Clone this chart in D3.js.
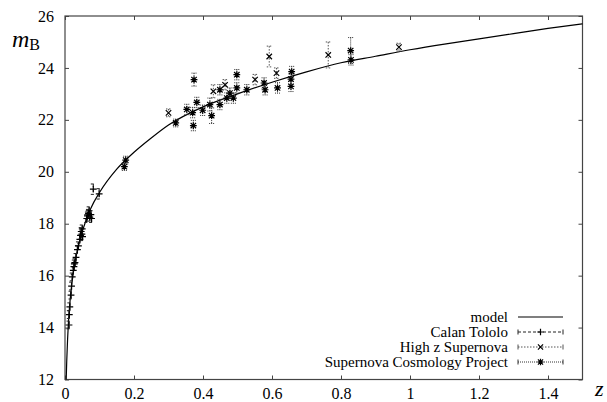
<!DOCTYPE html>
<html><head><meta charset="utf-8">
<script src="https://cdn.jsdelivr.net/npm/d3@7"></script>
<style>body{margin:0;background:#fff}svg{display:block}</style>
</head><body><svg id="c" width="607" height="402"></svg>
<script>
// model curve (z, m)
const modelZ = [0.0035,0.005,0.0075,0.01,0.015,0.02,0.03,0.04,0.05,0.075,0.1,0.15,0.2,0.25,0.3,0.4,0.5,0.6,0.7,0.8,0.9,1.0,1.1,1.2,1.3,1.4,1.5];
const modelM = [12.0,12.7,13.55,14.2,15.08,15.7,16.6,17.2,17.7,18.6,19.2,20.1,20.75,21.3,21.8,22.5,23.0,23.45,23.85,24.2,24.45,24.7,24.92,25.12,25.32,25.52,25.7];
// Calan Tololo: [z, m, err]
const calanTololo = [[0.0116,14.1,0.15],[0.0125,14.5,0.15],[0.014,14.8,0.15],[0.0175,15.25,0.15],[0.019,15.6,0.15],[0.021,15.95,0.15],[0.024,16.2,0.15],[0.026,16.35,0.15],[0.027,16.45,0.15],[0.029,16.5,0.15],[0.032,16.7,0.15],[0.036,17.0,0.15],[0.039,17.15,0.15],[0.043,17.4,0.15],[0.045,17.55,0.15],[0.047,17.7,0.15],[0.049,17.6,0.15],[0.050,17.8,0.15],[0.051,17.5,0.15],[0.063,18.2,0.15],[0.065,18.3,0.15],[0.068,18.4,0.15],[0.070,18.5,0.15],[0.072,18.25,0.15],[0.075,18.35,0.15],[0.077,18.2,0.15],[0.082,19.33,0.2],[0.099,19.15,0.2]];
// High z Supernova: [z, m, err]
const highZ = [[0.30,22.27,0.15],[0.43,23.1,0.25],[0.464,23.35,0.2],[0.551,23.55,0.2],[0.592,24.44,0.4],[0.613,23.8,0.2],[0.763,24.5,0.5],[0.968,24.8,0.15]];
// Supernova Cosmology Project: [z, m, err]
const scp = [[0.172,20.2,0.15],[0.176,20.45,0.15],[0.321,21.88,0.15],[0.353,22.4,0.2],[0.372,21.78,0.2],[0.37,22.28,0.2],[0.374,23.55,0.25],[0.382,22.67,0.2],[0.399,22.37,0.2],[0.42,22.59,0.25],[0.425,22.16,0.3],[0.449,23.16,0.2],[0.449,22.59,0.2],[0.469,22.84,0.2],[0.478,23.03,0.2],[0.488,22.84,0.2],[0.498,23.74,0.2],[0.498,23.23,0.2],[0.527,23.16,0.2],[0.577,23.42,0.2],[0.58,23.16,0.2],[0.616,23.23,0.2],[0.657,23.86,0.2],[0.655,23.57,0.2],[0.655,23.29,0.2],[0.828,24.67,0.5],[0.829,24.31,0.2]];
const xTicks = [0,0.2,0.4,0.6,0.8,1,1.2,1.4];
const yTicks = [12,14,16,18,20,22,24,26];
const legendLabels = ["model","Calan Tololo","High z Supernova","Supernova Cosmology Project"];

const FONT = '"Liberation Serif"';
const svg = d3.select("#c");
const L=65,R=582.5,T=16,B=379.5;
const x = d3.scaleLinear().domain([0,1.5]).range([L,R]);
const y = d3.scaleLinear().domain([12,26]).range([B,T]);
const axisCol="#444";

svg.append("rect").attr("x",L).attr("y",T).attr("width",R-L).attr("height",B-T)
  .attr("fill","none").attr("stroke",axisCol).attr("stroke-width",1.2);

function styleAxis(g){ g.attr("font-family",null).attr("font-size",null);
  g.select(".domain").remove(); g.selectAll("line").attr("stroke",axisCol).attr("stroke-width",1);
  g.selectAll("text").style("font-family",FONT).style("font-size","16px").attr("fill","#000"); }
const fmt = d=>String(d);
svg.append("g").attr("transform",`translate(0,${B})`).call(d3.axisBottom(x).tickValues(xTicks).tickFormat(fmt).tickSizeInner(-4).tickSizeOuter(0).tickPadding(8)).call(styleAxis);
svg.append("g").attr("transform",`translate(0,${T})`).call(d3.axisTop(x).tickValues(xTicks).tickFormat("").tickSizeInner(-4).tickSizeOuter(0)).call(styleAxis);
svg.append("g").attr("transform",`translate(${L},0)`).call(d3.axisLeft(y).tickValues(yTicks).tickFormat(fmt).tickSizeInner(-4).tickSizeOuter(0).tickPadding(11)).call(styleAxis);
svg.append("g").attr("transform",`translate(${R},0)`).call(d3.axisRight(y).tickValues(yTicks).tickFormat("").tickSizeInner(-4).tickSizeOuter(0)).call(styleAxis);

const mt = svg.append("text").attr("x",12).attr("y",47).style("font-family",FONT).style("font-size","24px");
mt.append("tspan").style("font-style","italic").text("m");
mt.append("tspan").style("font-size","16px").attr("dy",3).text("B");
svg.append("text").attr("x",595).attr("y",396).style("font-family",FONT).style("font-size","22px").style("font-style","italic").text("z");

const line = d3.line().x(d=>x(d[0])).y(d=>y(d[1])).curve(d3.curveMonotoneX);
svg.append("path").datum(modelZ.map((z,i)=>[z,modelM[i]])).attr("d",line)
  .attr("fill","none").attr("stroke","#000").attr("stroke-width",1.2);

function marker(g,type,cx,cy,s){
  const p=d3.path();
  if(type==="plus"||type==="star"){p.moveTo(cx-s,cy);p.lineTo(cx+s,cy);p.moveTo(cx,cy-s);p.lineTo(cx,cy+s);}
  if(type==="cross"||type==="star"){const k=s*0.8;p.moveTo(cx-k,cy-k);p.lineTo(cx+k,cy+k);p.moveTo(cx-k,cy+k);p.lineTo(cx+k,cy-k);}
  g.append("path").attr("d",p.toString()).attr("stroke","#000").attr("stroke-width",1.2).attr("fill","none");
}
const series=[
  {data:calanTololo,type:"plus",dash:"3,2",col:"#222"},
  {data:highZ,type:"cross",dash:"1.5,1.5",col:"#555"},
  {data:scp,type:"star",dash:"1,1",col:"#333"}
];
series.forEach(s=>{
  const g=svg.append("g");
  s.data.forEach(d=>{
    const cx=x(d[0]),y1=y(d[1]+d[2]),y2=y(d[1]-d[2]);
    g.append("line").attr("x1",cx).attr("x2",cx).attr("y1",y1).attr("y2",y2).attr("stroke",s.col).attr("stroke-width",1).attr("stroke-dasharray",s.dash);
    [y1,y2].forEach(yy=>g.append("line").attr("x1",cx-2.5).attr("x2",cx+2.5).attr("y1",yy).attr("y2",yy).attr("stroke",s.col).attr("stroke-width",1).attr("stroke-dasharray",s.dash));
  });
  s.data.forEach(d=>marker(g,s.type,x(d[0]),y(d[1]),3.4));
});

const lg=svg.append("g");
const rowY=[317,332,347,362];
legendLabels.forEach((lab,i)=>{
  lg.append("text").attr("x",508).attr("y",rowY[i]+5).attr("text-anchor","end").style("font-family",FONT).style("font-size","15px").text(lab);
  if(i===0){
    lg.append("line").attr("x1",518).attr("x2",563).attr("y1",rowY[i]).attr("y2",rowY[i]).attr("stroke","#000").attr("stroke-width",1.2);
  } else {
    const s=series[i-1];
    lg.append("line").attr("x1",518).attr("x2",563).attr("y1",rowY[i]).attr("y2",rowY[i]).attr("stroke",s.col).attr("stroke-dasharray",s.dash);
    [518,563].forEach(xx=>lg.append("line").attr("x1",xx).attr("x2",xx).attr("y1",rowY[i]-2.5).attr("y2",rowY[i]+2.5).attr("stroke",s.col));
    marker(lg,s.type,540.5,rowY[i],3.2);
  }
});
</script></body></html>
